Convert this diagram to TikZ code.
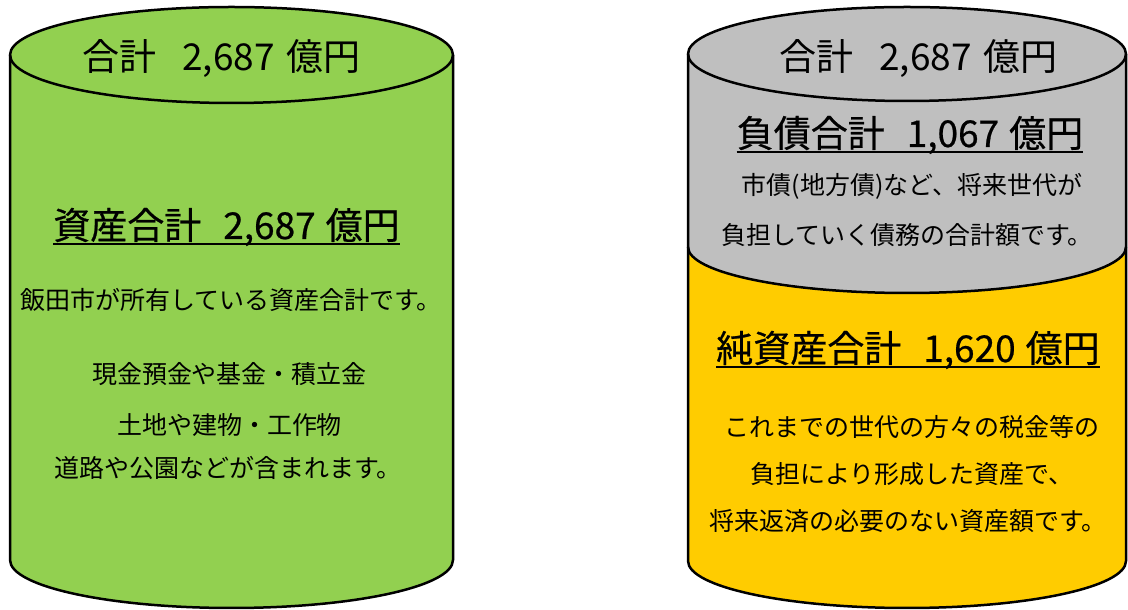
\documentclass[tikz,border=0pt]{standalone}
\usepackage{fontspec}
\setmainfont{Noto Sans CJK JP}
\newfontfamily\headfont[FakeBold=0.6]{Noto Sans CJK JP}
\definecolor{cgreen}{HTML}{92D050}
\definecolor{cgray}{HTML}{BFBFBF}
\definecolor{cyellow}{HTML}{FFCC00}
\begin{document}
\begin{tikzpicture}[x=1pt,y=1pt,
  outline/.style={draw=black,line width=2.5pt,line join=round},
  toptext/.style={anchor=base,inner sep=0pt,font=\fontsize{37}{41}\selectfont},
  hdr/.style={anchor=base,inner sep=0pt,font=\fontsize{37}{41}\selectfont\headfont},
  body/.style={anchor=base,inner sep=0pt,font=\fontsize{25}{29}\selectfont},
  uline/.style={line width=2.5pt}]
\useasboundingbox (0,0) rectangle (1128,610);
% ---------- left cylinder ----------
\fill[cgreen] (10,555) -- (10,50) arc[start angle=180,end angle=360,x radius=221.5,y radius=48]
  -- (453,555) arc[start angle=0,end angle=180,x radius=221.5,y radius=48] -- cycle;
\draw[outline] (10,555) -- (10,50) arc[start angle=180,end angle=360,x radius=221.5,y radius=48] -- (453,555);
\draw[outline] (231.5,555) ellipse[x radius=221.5,y radius=48];
% ---------- right cylinder ----------
\fill[cgray] (688,556) -- (688,363) arc[start angle=180,end angle=360,x radius=219,y radius=46]
  -- (1126,556) arc[start angle=0,end angle=180,x radius=219,y radius=47] -- cycle;
\fill[cyellow] (688,363) -- (688,49) arc[start angle=180,end angle=360,x radius=219,y radius=47]
  -- (1126,363) arc[start angle=0,end angle=-180,x radius=219,y radius=46] -- cycle;
\draw[outline] (688,556) -- (688,49) arc[start angle=180,end angle=360,x radius=219,y radius=47] -- (1126,556);
\draw[outline] (688,363) arc[start angle=180,end angle=360,x radius=219,y radius=46];
\draw[outline] (907,556) ellipse[x radius=219,y radius=47];
% ---------- left texts ----------
\node[toptext] (ltop) at (221.5,539) {合計\hspace{26pt}2,687\hspace{12pt}億円};
\node[hdr] (lhead) at (226.5,371) {資産合計\hspace{22pt}2,687\hspace{10pt}億円};
\draw[uline] ([yshift=-5pt]lhead.base west) -- ([yshift=-5pt]lhead.base east);
\node[body] (l1) at (231,300.5) {飯田市が所有している資産合計です。};
\node[body] (l2) at (229.5,226.5) {現金預金や基金・積立金};
\node[body] (l3) at (229.5,175.5) {土地や建物・工作物};
\node[body] (l4) at (228,132.5) {道路や公園などが含まれます。};
% ---------- right texts ----------
\node[toptext] (rtop) at (918.5,539) {合計\hspace{26pt}2,687\hspace{12pt}億円};
\node[hdr] (rhead1) at (910,463) {負債合計\hspace{22pt}1,067\hspace{10pt}億円};
\draw[uline] ([yshift=-5pt]rhead1.base west) -- ([yshift=-5pt]rhead1.base east);
\node[body] (r1) at (912,415.5) {市債(地方債)など、将来世代が};
\node[body] (r2) at (907,365.5) {負担していく債務の合計額です。};
\node[hdr] (rhead2) at (908,248) {純資産合計\hspace{22pt}1,620\hspace{10pt}億円};
\draw[uline] ([yshift=-5pt]rhead2.base west) -- ([yshift=-5pt]rhead2.base east);
\node[body] (r3) at (912,173.5) {これまでの世代の方々の税金等の};
\node[body] (r4) at (912,126.5) {負担により形成した資産で、};
\node[body] (r5) at (908,79.5) {将来返済の必要のない資産額です。};
\end{tikzpicture}
\end{document}
